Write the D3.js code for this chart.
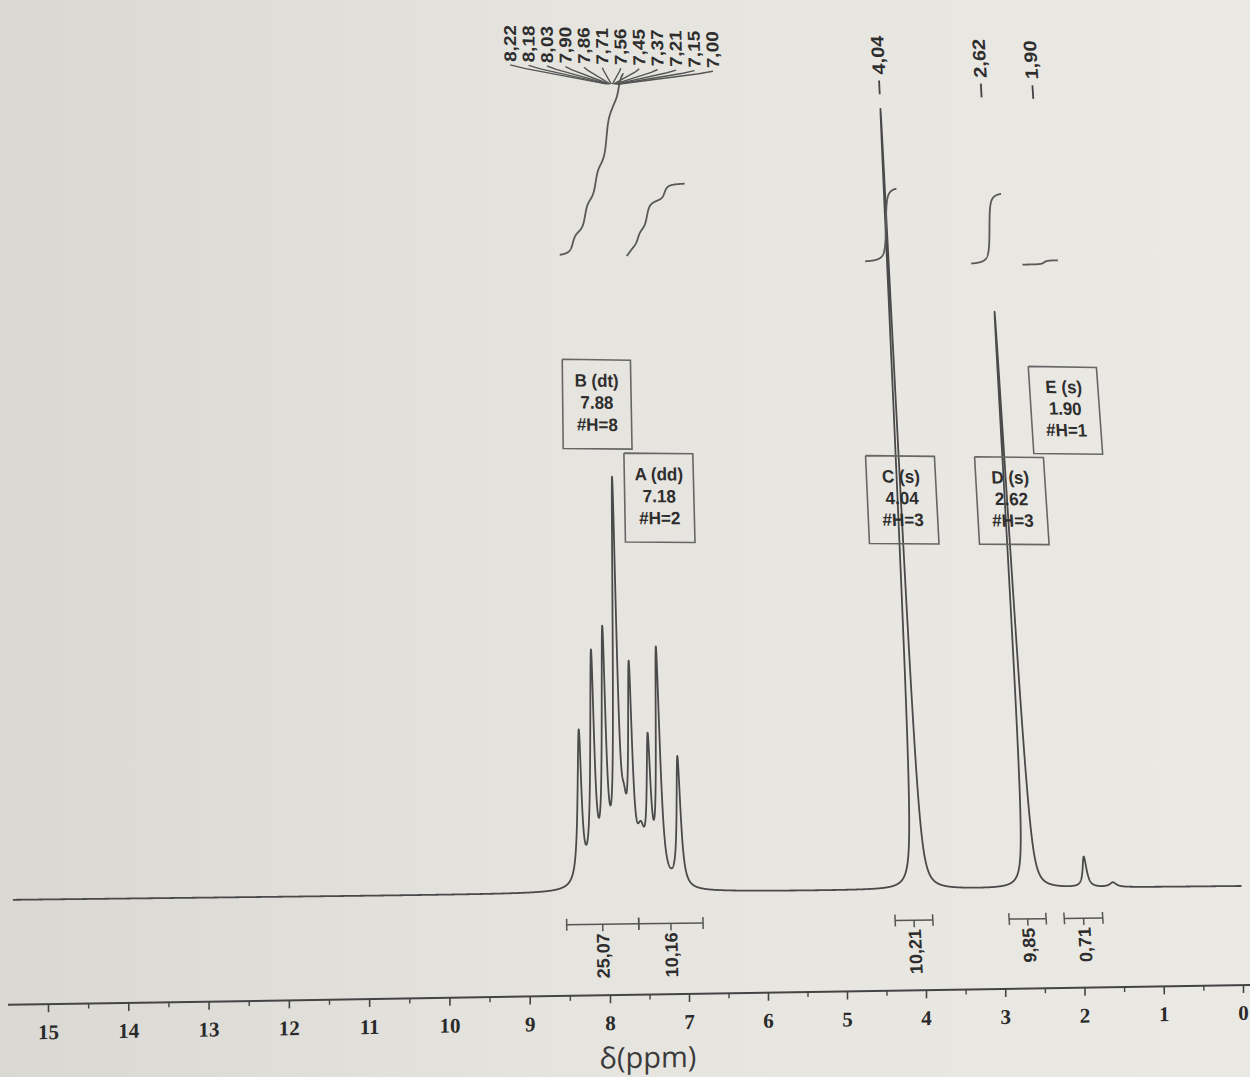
<!DOCTYPE html>
<html>
<head>
<meta charset="utf-8">
<script src="https://cdn.jsdelivr.net/npm/d3@7"></script>
<style>
  body { margin: 0; background: #e6e4df; }
  svg { display: block; }
</style>
</head>
<body>
<svg id="nmr" width="1250" height="1077"></svg>
<script>
// 1H NMR spectrum, redrawn from a photo of a printed page

// ---- data ----
const axisTicks = [15, 14, 13, 12, 11, 10, 9, 8, 7, 6, 5, 4, 3, 2, 1, 0];
const axisMinor = [14.5, 13.5, 12.5, 11.5, 10.5, 9.5, 8.5, 7.5, 6.5, 5.5, 4.5, 3.5, 2.5, 1.5, 0.5];

// lines of the spectrum: shift (ppm), height (0-100), half width (ppm)
const lineShift  = [8.35, 8.18, 8.03, 7.87, 7.78, 7.69, 7.57, 7.46, 7.33, 7.08, 4.04, 2.62, 1.90, 1.55];
const lineHeight = [19.0, 28.0, 30.0, 48.8, 5.0, 25.0, 5.0, 16.4, 29.0, 16.3, 99.0, 73.5, 3.9, 0.6];
const lineWidth  = [0.03, 0.03, 0.03, 0.03, 0.04, 0.03, 0.06, 0.03, 0.03, 0.03, 0.022, 0.022, 0.03, 0.05];

// peak picking labels
const multipletPeaks = ['8,22', '8,18', '8,03', '7,90', '7,86', '7,71', '7,56', '7,45', '7,37', '7,21', '7,15', '7,00'];
const singletPeaks = ['4,04', '2,62', '1,90'];
const singletShift = [4.04, 2.62, 1.90];

// integrals
const integralFrom  = [8.53, 7.62, 4.35, 2.90, 2.20];
const integralTo    = [7.62, 6.80, 3.87, 2.43, 1.71];
const integralValue = [25.07, 10.16, 10.21, 9.85, 0.71];

// multiplet boxes
const multName  = ['B', 'A', 'C', 'D', 'E'];
const multKind  = ['dt', 'dd', 's', 's', 's'];
const multShift = [7.88, 7.18, 4.04, 2.62, 1.90];
const multH     = [8, 2, 3, 3, 1];

// ---- layout ----
const svg = d3.select('#nmr');
const AXIS_Y = 995;
const BASE_Y = 893;
const INT_BASE = 256;   // level the integral curves start from
const INT_PX = 7.3;     // px per integral unit

// the page was photographed a bit skewed: keystone + tilt that changes with height
const K = 0.000104, VX = 467, TX = 625;
const slope = yy => -0.016 + 0.000048 * (AXIS_Y - yy);
const warp = ([x, y]) => [x - K * (x - VX) * (AXIS_Y - y), y + slope(y) * (x - TX)];
const frame = (x, y) => {
  const [px, py] = warp([x, y]);
  return `matrix(${1 - K * (AXIS_Y - y)},${slope(y)},${K * (x - VX)},1,${px},${py})`;
};
const line = d3.line();
const wpath = pts => line(pts.map(warp));

const x = d3.scaleLinear().domain([15, 8, 4, 0]).range([48, 610, 926, 1243]);
const y = d3.scaleLinear().domain([0, 100]).range([BASE_Y, 93]);

const intensity = p => d3.sum(lineShift, (s, i) => {
  const g = lineWidth[i], d = p - s;
  return lineHeight[i] * g * g / (d * d + g * g);
});

// background paper
const defs = svg.append('defs');
const grad = defs.append('linearGradient').attr('id', 'paper');
grad.append('stop').attr('offset', '0%').attr('stop-color', '#dad8d3');
grad.append('stop').attr('offset', '45%').attr('stop-color', '#e6e4df');
grad.append('stop').attr('offset', '100%').attr('stop-color', '#ebe9e4');
svg.append('rect').attr('width', 1250).attr('height', 1077).attr('fill', 'url(#paper)');

const ink = '#2e2e2e';

// ---- axis ----
const axisG = svg.append('g')
  .attr('transform', `matrix(1,${slope(AXIS_Y)},0,1,0,${-slope(AXIS_Y) * TX})`);
axisG.append('line')
  .attr('x1', 8).attr('x2', 1250).attr('y1', AXIS_Y).attr('y2', AXIS_Y)
  .attr('stroke', '#444').attr('stroke-width', 2);
axisG.append('g')
  .attr('transform', `translate(0,${AXIS_Y})`)
  .call(d3.axisBottom(x).tickValues(axisTicks).tickSize(8).tickPadding(12))
  .call(g => g.select('.domain').remove())
  .call(g => g.selectAll('line').attr('stroke', '#444').attr('stroke-width', 1.6))
  .call(g => g.selectAll('text')
    .attr('font-family', 'Liberation Serif, serif').attr('font-weight', 'bold')
    .attr('font-size', 21).attr('fill', '#2a2a2a'));
axisG.append('g')
  .attr('transform', `translate(0,${AXIS_Y})`)
  .call(d3.axisBottom(x).tickValues(axisMinor).tickSize(5).tickFormat(''))
  .call(g => g.select('.domain').remove())
  .call(g => g.selectAll('line').attr('stroke', '#444').attr('stroke-width', 1.4));
axisG.append('text')
  .attr('x', 648).attr('y', 1068).attr('text-anchor', 'middle')
  .attr('font-family', 'Open Sans, sans-serif').attr('font-size', 29)
  .attr('fill', '#3a3a3a').text('δ(ppm)');

// ---- spectrum ----
const grid = d3.range(x.invert(8), x.invert(1250), -0.002);
svg.append('path')
  .attr('d', wpath(grid.map(p => [x(p), y(intensity(p))])))
  .attr('fill', 'none').attr('stroke', '#4a4a4a').attr('stroke-width', 1.8)
  .attr('stroke-linejoin', 'round');

// ---- integral curves ----
integralFrom.forEach((from, k) => {
  const pts = d3.range(from, integralTo[k], -0.002);
  let acc = 0;
  const cum = pts.map(p => (acc += intensity(p)));
  const rise = integralValue[k] * INT_PX;
  svg.append('path')
    .attr('d', wpath(pts.map((p, i) => [x(p), INT_BASE - rise * cum[i] / acc])))
    .attr('fill', 'none').attr('stroke', '#595959').attr('stroke-width', 1.8);
});

// ---- integral bars under the spectrum ----
const BAR_Y = 924;
const fmtComma = v => d3.format('.2f')(v).replace('.', ',');
integralFrom.forEach((from, k) => {
  const x0 = x(from), x1 = x(integralTo[k]), xm = (x0 + x1) / 2;
  const g = svg.append('g').attr('stroke', '#555').attr('stroke-width', 1.5).attr('fill', 'none');
  g.append('path').attr('d', wpath([[x0, BAR_Y], [x1, BAR_Y]]));
  g.append('path').attr('d', wpath([[x0, BAR_Y - 6], [x0, BAR_Y + 6]]));
  g.append('path').attr('d', wpath([[x1, BAR_Y - 6], [x1, BAR_Y + 6]]));
  g.append('path').attr('d', wpath([[xm, BAR_Y], [xm, BAR_Y + 7]]));
  svg.append('text')
    .attr('transform', frame(xm, 933) + ' rotate(-90)')
    .attr('text-anchor', 'end').attr('dy', '0.35em')
    .attr('font-family', 'Liberation Sans, sans-serif').attr('font-weight', 'bold')
    .attr('font-size', 18).attr('fill', ink)
    .text(fmtComma(integralValue[k]));
});

// ---- peak labels on top ----
const FAN_X = 627, FAN_STEP = 20.4;
multipletPeaks.forEach((lab, i) => {
  const off = i - (multipletPeaks.length - 1) / 2;
  const lx = FAN_X + off * FAN_STEP;
  svg.append('text')
    .attr('transform', frame(lx, 65) + ' rotate(-90)')
    .attr('dy', '0.35em')
    .attr('font-family', 'Liberation Sans, sans-serif').attr('font-weight', 'bold')
    .attr('font-size', 19).attr('fill', ink).text(lab);
  const cx = FAN_X + off * 1.2;
  svg.append('path')
    .attr('d', wpath([[lx, 68], [lx + (cx - lx) * 0.15, 71], [cx, 84]]))
    .attr('fill', 'none').attr('stroke', '#555').attr('stroke-width', 1.4);
});
singletPeaks.forEach((lab, i) => {
  const sx = x(singletShift[i]);
  svg.append('text')
    .attr('transform', frame(sx, 66) + ' rotate(-90)')
    .attr('dy', '0.35em')
    .attr('font-family', 'Liberation Sans, sans-serif').attr('font-weight', 'bold')
    .attr('font-size', 20).attr('fill', ink).text(lab);
  svg.append('path')
    .attr('d', wpath([[sx, 72], [sx, 86]]))
    .attr('stroke', '#444').attr('stroke-width', 1.8);
});

// ---- multiplet boxes ----
const boxTop = { B: 360, A: 453, C: 453, D: 453, E: 360 };
const boxNudge = { B: -14, A: -5, C: 3, D: 6, E: 12 };
const BW = 73, BH = 89;
multName.forEach((n, i) => {
  const cx = x(multShift[i]) + boxNudge[n], top = boxTop[n];
  svg.append('path')
    .attr('d', wpath([[cx - BW / 2, top], [cx + BW / 2, top], [cx + BW / 2, top + BH],
      [cx - BW / 2, top + BH], [cx - BW / 2, top]]))
    .attr('fill', 'none').attr('stroke', '#666').attr('stroke-width', 1.6);
  const rows = [`${n} (${multKind[i]})`, d3.format('.2f')(multShift[i]), `#H=${multH[i]}`];
  rows.forEach((r, j) => {
    svg.append('text')
      .attr('transform', frame(cx, top + 27 + j * 22))
      .attr('text-anchor', 'middle')
      .attr('font-family', 'Liberation Sans, sans-serif')
      .attr('font-weight', 'bold').attr('font-size', 18).attr('fill', ink)
      .text(r);
  });
});
</script>
</body>
</html>
